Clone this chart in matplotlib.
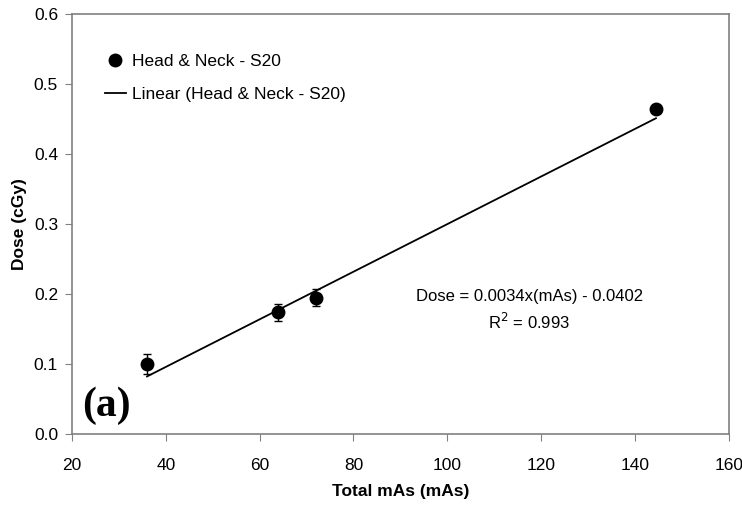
import matplotlib
matplotlib.use("Agg")
import matplotlib.pyplot as plt
from matplotlib.lines import Line2D
import numpy as np

# Data
mas = [36.0, 64.0, 72.0, 144.5]
dose = [0.100, 0.174, 0.195, 0.464]
dose_err = [0.014, 0.012, 0.012, 0.005]
slope = 0.0034
intercept = -0.0402
x_ticks = [20, 40, 60, 80, 100, 120, 140, 160]
y_ticks = [0.0, 0.1, 0.2, 0.3, 0.4, 0.5, 0.6]

plt.rcParams['font.family'] = ['Liberation Sans', 'DejaVu Sans']

fig = plt.figure(figsize=(7.42, 5.05), dpi=100)
ax = fig.add_axes([0.097, 0.1406, 0.885, 0.8316])

gray = '#808080'
ax.errorbar(mas, dose, yerr=dose_err, fmt='o', color='black', ms=9,
            ecolor='black', elinewidth=1, capsize=3, capthick=1, zorder=3)
xf = np.array([min(mas), max(mas)])
ax.plot(xf, slope * xf + intercept, color='black', lw=1.3, zorder=2)

ax.set_xlim(20, 160)
ax.set_ylim(0, 0.6)
ax.set_xticks(x_ticks)
ax.set_yticks(y_ticks)
ax.set_yticklabels([f'{v:.1f}' for v in y_ticks])
ax.tick_params(axis='both', direction='out', length=5, color=gray, labelsize=12.5)
ax.tick_params(axis='x', pad=12)
ax.tick_params(axis='y', pad=5)
for s in ax.spines.values():
    s.set_color(gray)
    s.set_linewidth(1.2)

ax.set_xlabel('Total mAs (mAs)', fontsize=12.5, fontweight='bold', labelpad=8)
ax.set_ylabel('Dose (cGy)', fontsize=12.5, fontweight='bold', labelpad=5)

handles = [Line2D([], [], marker='o', ls='none', color='black', ms=9),
           Line2D([], [], color='black', lw=1.3)]
labels = ['Head & Neck - S20', 'Linear (Head & Neck - S20)']
ax.legend(handles, labels, loc='upper left', bbox_to_anchor=(0.05, 0.905),
          frameon=False, fontsize=12.5, handlelength=1.2, handletextpad=0.35,
          labelspacing=1.05, borderaxespad=0, borderpad=0)

ax.text(117.5, 0.196, 'Dose = 0.0034x(mAs) - 0.0402', ha='center', va='center',
        fontsize=12)
ax.text(117.5, 0.160, r'R$^2$ = 0.993', ha='center', va='center', fontsize=12)

ax.text(27.3, 0.040, '(a)', fontsize=30, fontweight='bold',
        family=['Liberation Serif', 'DejaVu Serif'], ha='center', va='center')

fig.savefig('out.png', dpi=100)
